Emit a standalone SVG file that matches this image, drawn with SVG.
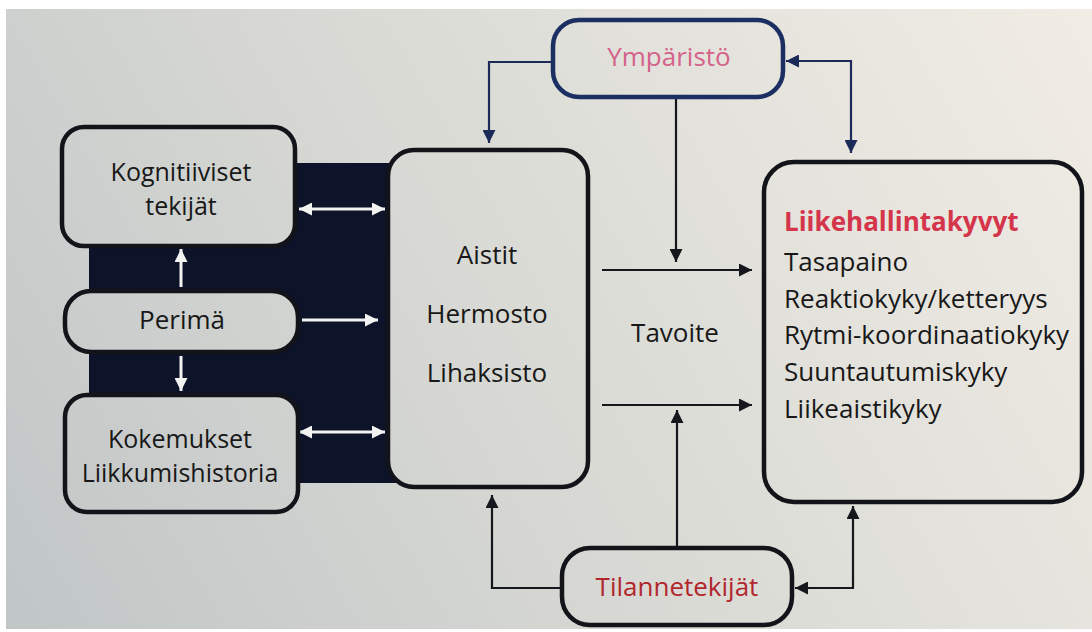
<svg xmlns="http://www.w3.org/2000/svg" width="1092" height="632" viewBox="0 0 1092 632">
<defs>
<linearGradient id="paper" gradientUnits="userSpaceOnUse" x1="0" y1="632" x2="1092" y2="0">
<stop offset="0" stop-color="#c0c5c6"/>
<stop offset="0.45" stop-color="#d8d9d4"/>
<stop offset="1" stop-color="#f1ede5"/>
</linearGradient>
<marker id="ahN" viewBox="0 0 10 10" refX="10" refY="5" markerWidth="14" markerHeight="13" markerUnits="userSpaceOnUse" orient="auto-start-reverse"><path d="M0,0 L10,5 L0,10 z" fill="#1b2a58"/></marker>
<marker id="ahK" viewBox="0 0 10 10" refX="10" refY="5" markerWidth="14" markerHeight="13" markerUnits="userSpaceOnUse" orient="auto-start-reverse"><path d="M0,0 L10,5 L0,10 z" fill="#15171c"/></marker>
<marker id="ahW" viewBox="0 0 10 10" refX="10" refY="5" markerWidth="14" markerHeight="13" markerUnits="userSpaceOnUse" orient="auto-start-reverse"><path d="M0,0 L10,5 L0,10 z" fill="#f2f2f0"/></marker>
</defs>
<style>
.box{fill:url(#paper);stroke:#121419;stroke-width:4.5}
.nbox{fill:url(#paper);stroke:#1c2f62;stroke-width:4.5}
.t{font-family:"Open Sans","Noto Sans",sans-serif;font-size:26px;fill:#181818}
.s{font-size:25px}
.c{text-anchor:middle}
.cn{fill:none;stroke:#1b2a58;stroke-width:2.2}
.ck{fill:none;stroke:#15171c;stroke-width:2.2}
.cw{fill:none;stroke:#f2f2f0;stroke-width:3}
</style>
<rect x="0" y="0" width="1092" height="632" fill="#ffffff"/>
<rect x="6" y="9" width="1086" height="620" fill="url(#paper)"/>
<rect x="89" y="163" width="310" height="320" fill="#0d1329"/>

<g id="connectors">
<path class="cn" d="M553,62 H489 V143" marker-end="url(#ahN)"/>
<path class="cn" d="M786,61 H851 V153" marker-start="url(#ahN)" marker-end="url(#ahN)"/>
<path class="ck" d="M676,97 V262" marker-end="url(#ahK)"/>
<path class="ck" d="M602,270 H752" marker-end="url(#ahK)"/>
<path class="ck" d="M602,405 H752" marker-end="url(#ahK)"/>
<path class="ck" d="M677,548 V410" marker-end="url(#ahK)"/>
<path class="ck" d="M562,588 H492 V495" marker-end="url(#ahK)"/>
<path class="ck" d="M795,588 H853 V506" marker-start="url(#ahK)" marker-end="url(#ahK)"/>
<path class="cw" d="M299,209 H385" marker-start="url(#ahW)" marker-end="url(#ahW)"/>
<path class="cw" d="M302,320 H378" marker-end="url(#ahW)"/>
<path class="cw" d="M299,432 H385" marker-start="url(#ahW)" marker-end="url(#ahW)"/>
<path class="cw" d="M181,287 V249" marker-end="url(#ahW)"/>
<path class="cw" d="M181,356 V391" marker-end="url(#ahW)"/>
</g>

<g id="ymparisto">
<rect class="nbox" x="553" y="20" width="230" height="77" rx="26"/>
<text class="t c" x="669" y="66" style="fill:#d4628a">Ympäristö</text>
</g>

<g id="kognitiiviset">
<rect class="box" x="62" y="127" width="233" height="119" rx="22"/>
<text class="t s c" x="181" y="181">Kognitiiviset</text>
<text class="t s c" x="181" y="215">tekijät</text>
</g>

<g id="perima">
<rect class="box" x="65" y="291" width="233" height="61" rx="26"/>
<text class="t c" x="182" y="329">Perimä</text>
</g>

<g id="kokemukset">
<rect class="box" x="65" y="395" width="233" height="117" rx="22"/>
<text class="t s c" x="180" y="448">Kokemukset</text>
<text class="t s c" x="180" y="482">Liikkumishistoria</text>
</g>

<g id="aistit">
<rect class="box" x="388" y="150" width="200" height="337" rx="26"/>
<text class="t c" x="487" y="264">Aistit</text>
<text class="t c" x="487" y="323">Hermosto</text>
<text class="t c" x="487" y="382">Lihaksisto</text>
</g>

<g id="tavoite">
<text class="t c" x="675" y="342">Tavoite</text>
</g>

<g id="liikehallinta">
<rect class="box" x="764" y="162" width="318" height="340" rx="30"/>
<text class="t" x="784" y="231" style="fill:#d5354b;font-weight:700">Liikehallintakyvyt</text>
<text class="t" x="784" y="271">Tasapaino</text>
<text class="t" x="784" y="308">Reaktiokyky/ketteryys</text>
<text class="t" x="784" y="344">Rytmi-koordinaatiokyky</text>
<text class="t" x="784" y="381">Suuntautumiskyky</text>
<text class="t" x="784" y="418">Liikeaistikyky</text>
</g>

<g id="tilannetekijat">
<rect class="box" x="562" y="548" width="230" height="77" rx="28"/>
<text class="t c" x="677" y="596" style="fill:#b2262d">Tilannetekijät</text>
</g>
</svg>
